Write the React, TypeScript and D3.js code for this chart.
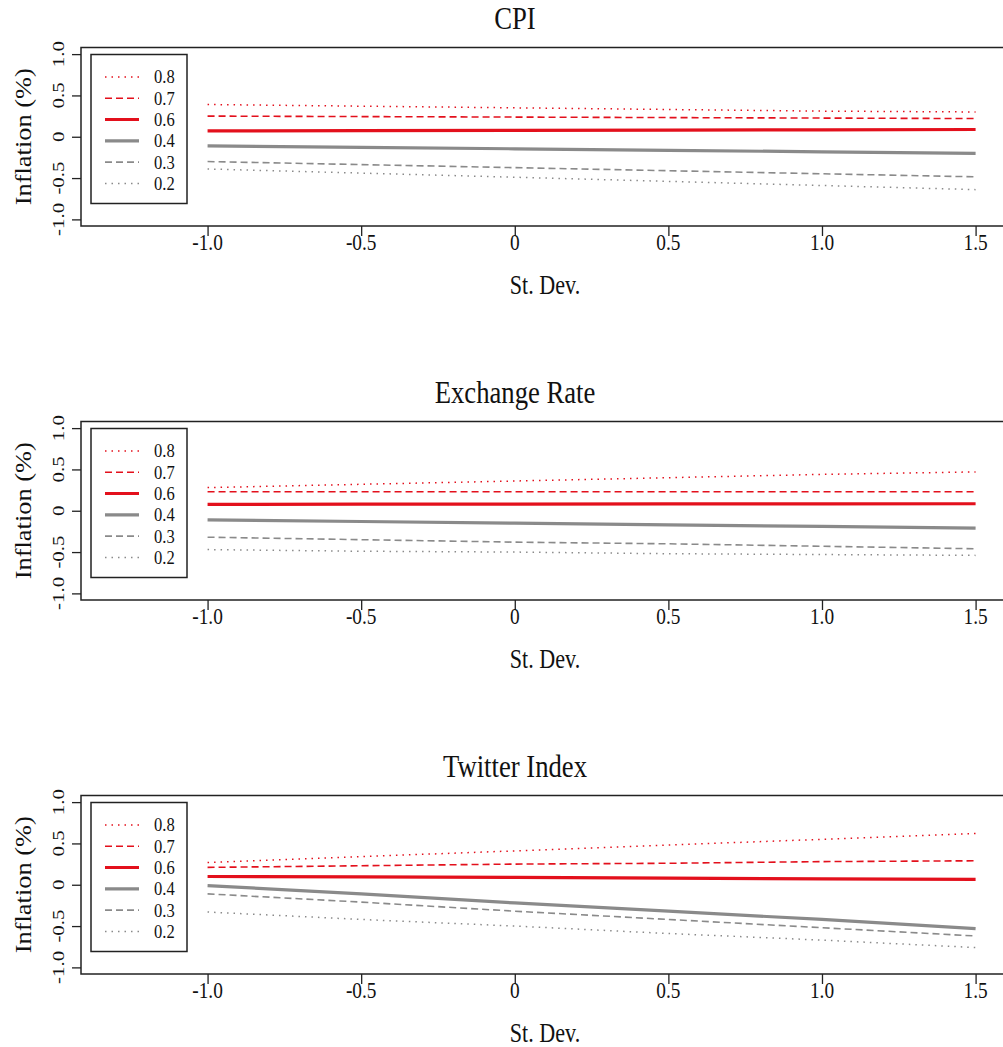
import { useEffect, useRef } from "react";
import * as d3 from "d3";

// x positions (St. Dev.)
const stDev = [-1.0, -0.5, 0, 0.5, 1.0, 1.5];

const panelTitles = ["CPI", "Exchange Rate", "Twitter Index"];
const seriesLabels = ["0.8", "0.7", "0.6", "0.4", "0.3", "0.2"];

// CPI
const cpi08 = [0.39, 0.37, 0.35, 0.33, 0.31, 0.3];
const cpi07 = [0.25, 0.244, 0.238, 0.232, 0.226, 0.22];
const cpi06 = [0.07, 0.074, 0.077, 0.08, 0.084, 0.088];
const cpi04 = [-0.11, -0.128, -0.146, -0.164, -0.182, -0.2];
const cpi03 = [-0.3, -0.337, -0.374, -0.411, -0.448, -0.485];
const cpi02 = [-0.39, -0.44, -0.49, -0.54, -0.59, -0.64];

// Exchange rate
const exr08 = [0.28, 0.32, 0.36, 0.4, 0.44, 0.47];
const exr07 = [0.23, 0.23, 0.23, 0.23, 0.23, 0.23];
const exr06 = [0.077, 0.079, 0.08, 0.082, 0.083, 0.085];
const exr04 = [-0.11, -0.13, -0.15, -0.17, -0.19, -0.21];
const exr03 = [-0.32, -0.35, -0.38, -0.4, -0.43, -0.46];
const exr02 = [-0.47, -0.49, -0.5, -0.52, -0.53, -0.54];

// Twitter index
const twi08 = [0.27, 0.34, 0.41, 0.48, 0.55, 0.62];
const twi07 = [0.21, 0.23, 0.25, 0.26, 0.28, 0.29];
const twi06 = [0.1, 0.095, 0.09, 0.08, 0.07, 0.065];
const twi04 = [-0.01, -0.11, -0.22, -0.32, -0.42, -0.53];
const twi03 = [-0.11, -0.21, -0.32, -0.42, -0.52, -0.62];
const twi02 = [-0.33, -0.42, -0.5, -0.59, -0.67, -0.76];

const xTicks = [-1.0, -0.5, 0, 0.5, 1.0, 1.5];
const yTicks = [-1.0, -0.5, 0, 0.5, 1.0];

const panels = [
  [cpi08, cpi07, cpi06, cpi04, cpi03, cpi02],
  [exr08, exr07, exr06, exr04, exr03, exr02],
  [twi08, twi07, twi06, twi04, twi03, twi02],
];

const RED = "#e3101c";
const GRAY = "#8a8a8a";
const styles = [
  { color: RED, width: 1.5, dash: "1.5,5" },
  { color: RED, width: 1.6, dash: "7,4" },
  { color: RED, width: 3.2, dash: null },
  { color: GRAY, width: 3.2, dash: null },
  { color: GRAY, width: 1.6, dash: "7,4" },
  { color: GRAY, width: 1.5, dash: "1.5,5" },
];

// R-style labels: plain hyphen, "0" without decimals
const fmt = (v: number) => (v === 0 ? "0" : d3.format(".1f")(v).replace("\u2212", "-"));

const App = () => {
  const ref = useRef<SVGSVGElement>(null);

  useEffect(() => {
    const width = 1003;
    const height = 1047;
    const left = 81;
    const panelTop = 47.5;
    const panelH = 178.5;
    const step = 374;
    const font = "'Liberation Serif', 'Times New Roman', serif";
    // the source image is slightly stretched vertically
    const SX = 0.92;
    const SY = 1.1;

    const svg = d3.select(ref.current);
    svg.selectAll("*").remove();
    svg.attr("width", width).attr("height", height);

    const label = (g, x, y, txt, size, rotate = false, anchor = "middle") =>
      g
        .append("text")
        .attr(
          "transform",
          rotate
            ? `translate(${x},${y}) rotate(-90) scale(${SY},${SX})`
            : `translate(${x},${y}) scale(${SX},${SY})`
        )
        .attr("text-anchor", anchor)
        .style("font-family", font)
        .style("font-size", `${size}px`)
        .attr("fill", "#111")
        .text(txt);

    const x = d3.scaleLinear().domain([-1.412, 1.612]).range([left, 1010]);

    panels.forEach((series, p) => {
      const top = panelTop + p * step;
      const bottom = top + panelH;
      const y = d3.scaleLinear().domain([-1.08, 1.08]).range([bottom, top]);
      const g = svg.append("g");

      // title
      label(g, 515, top - 19, panelTitles[p], 29);

      // lines
      const line = d3
        .line<number>()
        .x((_, i) => x(stDev[i]))
        .y((d) => y(d));
      series.forEach((vals, s) => {
        const st = styles[s];
        g.append("path")
          .attr("d", line(vals))
          .attr("fill", "none")
          .attr("stroke", st.color)
          .attr("stroke-width", st.width)
          .attr("stroke-dasharray", st.dash);
      });

      // frame
      g.append("rect")
        .attr("x", left)
        .attr("y", top)
        .attr("width", 1010 - left)
        .attr("height", panelH)
        .attr("fill", "none")
        .attr("stroke", "#222")
        .attr("stroke-width", 1.5);

      // x axis
      const xAxis = d3.axisBottom(x).tickValues(xTicks).tickSize(10).tickFormat(() => "");
      const xg = g.append("g").attr("transform", `translate(0,${bottom})`).call(xAxis);
      xg.select(".domain").remove();
      xg.selectAll("line").attr("stroke", "#222").attr("stroke-width", 1.3);
      xTicks.forEach((t) => label(g, x(t), bottom + 24, fmt(t), 21));

      label(g, 545, bottom + 68, "St. Dev.", 24);

      // y axis
      const yAxis = d3.axisLeft(y).tickValues(yTicks).tickSize(9).tickFormat(() => "");
      const yg = g.append("g").attr("transform", `translate(${left},0)`).call(yAxis);
      yg.select(".domain").remove();
      yg.selectAll("line").attr("stroke", "#222").attr("stroke-width", 1.3);
      yTicks.forEach((t) => label(g, 64, y(t), fmt(t), 19, true));

      label(g, 31, (top + bottom) / 2, "Inflation (%)", 24, true);

      // legend
      const lg = g.append("g").attr("transform", `translate(91,${top + 7})`);
      lg.append("rect")
        .attr("width", 96)
        .attr("height", 149)
        .attr("fill", "white")
        .attr("stroke", "#222")
        .attr("stroke-width", 1.5);
      seriesLabels.forEach((lab, s) => {
        const st = styles[s];
        const ly = 22.4 + s * 21.3;
        lg.append("line")
          .attr("x1", 14)
          .attr("x2", 48)
          .attr("y1", ly)
          .attr("y2", ly)
          .attr("stroke", st.color)
          .attr("stroke-width", st.width)
          .attr("stroke-dasharray", st.dash);
        label(lg, 63, ly + 6.5, lab, 18, false, "start");
      });
    });
  }, []);

  return (
    <svg
      ref={ref}
      style={{ position: "absolute", left: 0, top: 0, background: "white" }}
    ></svg>
  );
};

export default App;
